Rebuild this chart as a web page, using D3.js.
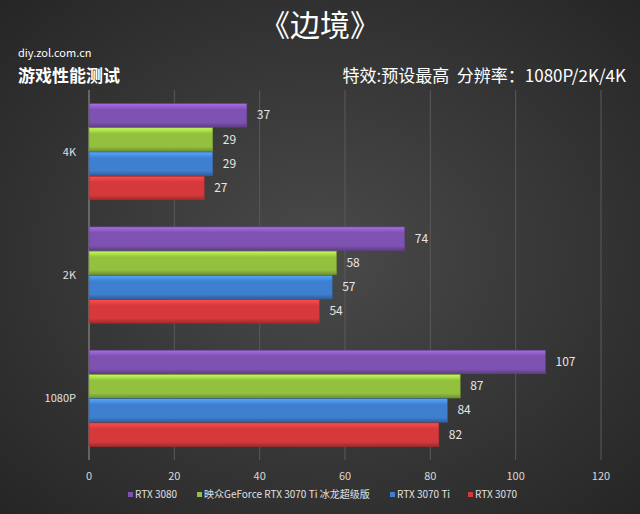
<!DOCTYPE html>
<html><head><meta charset="utf-8">
<script src="https://cdn.jsdelivr.net/npm/d3@7"></script>
<style>body{margin:0;background:#2b2b2b}svg{display:block;font-family:"Noto Sans CJK SC","Noto Sans",sans-serif}</style>
</head><body>
<svg id="c" width="640" height="514"></svg>
<script>
const categories = ["4K", "2K", "1080P"];
const series = ["RTX 3080", "映众GeForce RTX 3070 Ti 冰龙超级版", "RTX 3070 Ti", "RTX 3070"];
const colors = ["#7e52b0", "#93c13f", "#3f7fd0", "#d6393b"];
const values = [
  [37, 29, 29, 27],
  [74, 58, 57, 54],
  [107, 87, 84, 82]
];
const ticks = [0, 20, 40, 60, 80, 100, 120];

const svg = d3.select("#c");
const defs = svg.append("defs");

let bg = defs.append("radialGradient").attr("id", "bg").attr("cx", "50%").attr("cy", "50%").attr("r", "70%");
bg.append("stop").attr("offset", "0%").attr("stop-color", "#4a4a4a");
bg.append("stop").attr("offset", "100%").attr("stop-color", "#262626");
svg.append("rect").attr("width", 640).attr("height", 514).attr("fill", "url(#bg)");

colors.forEach((c, i) => {
  let g = defs.append("linearGradient").attr("id", "g" + i).attr("x1", 0).attr("y1", 0).attr("x2", 0).attr("y2", 1);
  g.append("stop").attr("offset", "0%").attr("stop-color", d3.color(c).brighter(0.8));
  g.append("stop").attr("offset", "25%").attr("stop-color", c);
  g.append("stop").attr("offset", "80%").attr("stop-color", c);
  g.append("stop").attr("offset", "100%").attr("stop-color", d3.color(c).darker(0.8));
});

const x = d3.scaleLinear().domain([0, 120]).range([89, 601]);
const y = d3.scaleBand().domain(categories).range([90, 460]).paddingInner(0.22).paddingOuter(0.11);
const yi = d3.scaleBand().domain(d3.range(series.length)).range([0, y.bandwidth()]).paddingInner(0.03);

// grid
svg.append("g").selectAll("line").data(ticks.slice(1)).join("line")
  .attr("x1", d => x(d)).attr("x2", d => x(d)).attr("y1", 90).attr("y2", 460)
  .attr("stroke", "#5a5a5a").attr("stroke-width", 1);
svg.append("line").attr("x1", x(0)).attr("x2", x(0)).attr("y1", 90).attr("y2", 460)
  .attr("stroke", "#9a9a9a");

// tick labels
svg.append("g").selectAll("text").data(ticks).join("text")
  .attr("x", d => x(d)).attr("y", 480).attr("text-anchor", "middle")
  .attr("fill", "#d8d8d8").attr("font-size", 11).text(d => d);

svg.append("g").selectAll("text").data(categories).join("text")
  .attr("x", 76).attr("y", d => y(d) + y.bandwidth() / 2 + 4).attr("text-anchor", "end")
  .attr("fill", "#e0e0e0").attr("font-size", 11).text(d => d);

// bars
const grp = svg.append("g").selectAll("g").data(categories).join("g")
  .attr("transform", d => `translate(0,${y(d)})`);
grp.each(function(cat, ci) {
  const g = d3.select(this);
  values[ci].forEach((v, si) => {
    g.append("rect").attr("x", x(0)).attr("y", yi(si)).attr("width", x(v) - x(0)).attr("height", yi.bandwidth())
      .attr("fill", `url(#g${si})`).attr("stroke", d3.color(colors[si]).darker(0.6)).attr("stroke-width", 0.6);
    g.append("text").attr("x", x(v) + 10).attr("y", yi(si) + yi.bandwidth() / 2 + 4)
      .attr("fill", "#e6e6e6").attr("font-size", 12).text(v);
  });
});

// titles
svg.append("text").attr("x", 320).attr("y", 36).attr("text-anchor", "middle")
  .attr("fill", "#fff").attr("font-size", 30).text("《边境》");
svg.append("text").attr("x", 18).attr("y", 57).attr("fill", "#fff").attr("font-size", 11).text("diy.zol.com.cn");
svg.append("text").attr("x", 18).attr("y", 82).attr("fill", "#fff").attr("font-size", 17).attr("font-weight", "bold").text("游戏性能测试");
svg.append("text").attr("x", 626).attr("y", 82).attr("text-anchor", "end").attr("fill", "#fff")
  .attr("font-size", 17).attr("xml:space", "preserve").text("特效:预设最高  分辨率：1080P/2K/4K");

// legend
const lx = [128, 197, 390, 468];
const lg = svg.append("g").selectAll("g").data(series).join("g")
  .attr("transform", (d, i) => `translate(${lx[i]},498)`);
lg.append("rect").attr("x", 0).attr("y", -6).attr("width", 5).attr("height", 5).attr("fill", (d, i) => colors[i]);
lg.append("text").attr("x", 7).attr("y", 0).attr("fill", "#e0e0e0").attr("font-size", 10).text(d => d);
</script>
</body></html>
